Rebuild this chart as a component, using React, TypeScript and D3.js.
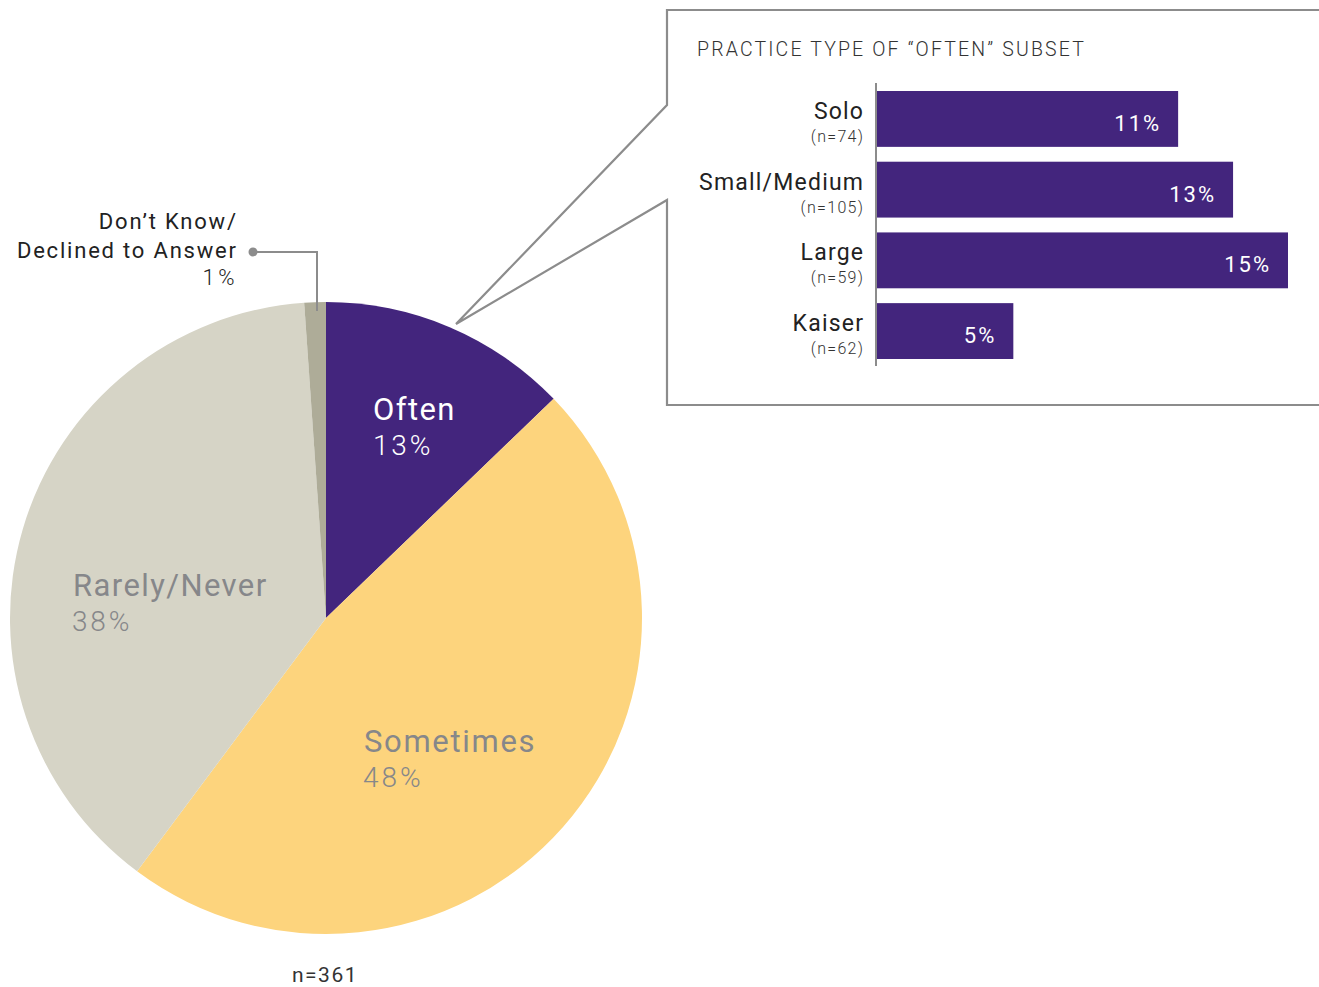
import React from "react";
import * as d3 from "d3";

const pieLabels = ["Often", "Sometimes", "Rarely/Never", "Don't Know/Declined to Answer"];
// shares as drawn (unrounded) and as printed
const pieShares = [12.8, 47.4, 38.7, 1.1];
const pieValues = [13, 48, 38, 1];
const pieColors = ["#43257d", "#fdd47d", "#d6d4c6", "#aeac98"];

const barCategories = ["Solo", "Small/Medium", "Large", "Kaiser"];
const barCounts = ["(n=74)", "(n=105)", "(n=59)", "(n=62)"];
const barValues = [11, 13, 15, 5];

const W = 1319;
const H = 987;
const FONT = "Roboto, 'Liberation Sans', sans-serif";

export default function App() {
  const cx = 326, cy = 618, R = 316;
  const pie = d3.pie<number>().sort(null).value((d) => d)(pieShares);
  const arc = d3.arc<d3.PieArcDatum<number>>().innerRadius(0).outerRadius(R);

  const x = d3.scaleLinear().domain([0, 15]).range([876, 1288]);
  const y = d3.scaleBand().domain(barCategories).range([91, 359]).paddingInner(0.21).paddingOuter(0);

  const gray = "#86878a";
  const lineGray = "#8c8c8c";

  return (
    <svg width={W} height={H} style={{ position: "absolute", left: 0, top: 0, background: "#fff" }}>
      {/* pie */}
      <g transform={`translate(${cx},${cy})`}>
        {pie.map((d, i) => (
          <path key={i} d={arc(d) || ""} fill={pieColors[i]} />
        ))}
      </g>
      {/* pie labels */}
      <g fontFamily={FONT}>
        <text x={373} y={420} fontSize={31} fill="#fff" letterSpacing={1.4}>{pieLabels[0]}</text>
        <text x={373} y={455} fontSize={28} fill="#fff" fontWeight={300} letterSpacing={2.8}>{pieValues[0]}%</text>
        <text x={364} y={752} fontSize={31} fill={gray} letterSpacing={1.7}>{pieLabels[1]}</text>
        <text x={363} y={787} fontSize={28} fill={gray} fontWeight={300} letterSpacing={2.9}>{pieValues[1]}%</text>
        <text x={73} y={596} fontSize={31} fill={gray} letterSpacing={1.4}>{pieLabels[2]}</text>
        <text x={72} y={631} fontSize={28} fill={gray} fontWeight={300} letterSpacing={2.8}>{pieValues[2]}%</text>
      </g>
      {/* don't know callout */}
      <g fontFamily={FONT} fill="#222" fontSize={22} textAnchor="end">
        <text x={237.8} y={229} letterSpacing={1.8}>Don’t Know/</text>
        <text x={237.8} y={258} letterSpacing={1.8}>Declined to Answer</text>
        <text x={238} y={285} fontWeight={300} letterSpacing={3.5}>{pieValues[3]}%</text>
      </g>
      <circle cx={253} cy={252} r={4.5} fill={lineGray} />
      <polyline points="253,252 317,252 317,311" fill="none" stroke={lineGray} strokeWidth={2} />
      <text x={292} y={982} fontFamily={FONT} fontSize={21} fill="#333" letterSpacing={1.5}>n=361</text>

      {/* callout box */}
      <polyline
        points={`${W + 5},10 667,10 667,105 456,324 667,200 667,405 ${W + 5},405`}
        fill="none"
        stroke={lineGray}
        strokeWidth={2.2}
        strokeLinejoin="miter"
      />
      <text x={697} y={56} fontFamily={FONT} fontSize={19.5} fill="#333" fontWeight={300} letterSpacing={2.15}>
        PRACTICE TYPE OF “OFTEN” SUBSET
      </text>
      {/* bars */}
      <g fontFamily={FONT}>
        {barCategories.map((c, i) => {
          const y0 = y(c)!;
          const bw = y.bandwidth();
          return (
            <g key={c}>
              <rect x={x(0)} y={y0} width={x(barValues[i]) - x(0)} height={bw} fill="#43257d" />
              <text x={x(barValues[i]) - 17} y={y0 + 40} fontSize={22} fill="#fff" textAnchor="end" letterSpacing={2}>
                {barValues[i]}%
              </text>
              <text x={864.2} y={y0 + 28} fontSize={23} fill="#222" textAnchor="end" letterSpacing={1.2}>{c}</text>
              <text x={864.3} y={y0 + 51} fontSize={16} fill="#333" textAnchor="end" fontWeight={300} letterSpacing={1.3}>{barCounts[i]}</text>
            </g>
          );
        })}
        <line x1={876} x2={876} y1={83} y2={366} stroke={lineGray} strokeWidth={2} />
      </g>
    </svg>
  );
}
